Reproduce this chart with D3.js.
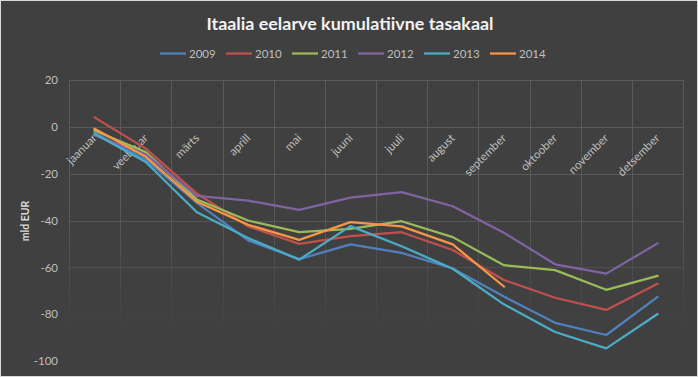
<!DOCTYPE html>
<html><head><meta charset="utf-8">
<script src="https://cdnjs.cloudflare.com/ajax/libs/d3/7.8.5/d3.min.js"></script>
<style>html,body{margin:0;padding:0;background:#404040;overflow:hidden}</style>
</head><body>
<svg id="chart" width="698" height="377"></svg>
<script>
const title = "Itaalia eelarve kumulatiivne tasakaal";
const yLabel = "mld EUR";
const months = ["jaanuar","veebruar","märts","aprill","mai","juuni","juuli","august","september","oktoober","november","detsember"];
const yTicks = [20, 0, -20, -40, -60, -80, -100];
const seriesNames = ["2009","2010","2011","2012","2013","2014"];
const seriesColors = ["#4F81BD","#C0504D","#9BBB59","#8064A2","#4BACC6","#F79646"];
const v2009 = [-2.6, -14, -32.5, -48.5, -56.5, -50.2, -53.8, -60.5, -72.5, -83.7, -88.9, -72.7];
const v2010 = [4, -9.3, -28.5, -42.5, -50, -46.7, -45, -52.6, -65.4, -73, -78.2, -67];
const v2011 = [-1.6, -10.8, -31, -40, -45, -43.6, -40.3, -47.1, -59.1, -61.2, -69.6, -63.7];
const v2012 = [-3.6, -11.8, -29.5, -31.5, -35.5, -30.2, -27.9, -33.9, -45.2, -58.7, -62.7, -49.8];
const v2013 = [-3, -15, -36.5, -47.5, -56.7, -42.4, -51, -60.6, -75.8, -87.6, -94.6, -80];
const v2014 = [-0.8, -12.8, -32, -41.8, -48.3, -40.7, -42.5, -50.2, -68.2];
const allSeries = [v2009, v2010, v2011, v2012, v2013, v2014];

const svg = d3.select("#chart");
const W = 698, H = 377;
const font = "Lato, 'Liberation Sans', sans-serif";
svg.append("rect").attr("x",0.5).attr("y",0.5).attr("width",W-1).attr("height",H-1)
  .attr("fill","#404040").attr("stroke","#d9d9d9").attr("stroke-width",1);

const plot = {l:69, r:683, t:80, b:361};
const x = d3.scaleBand().domain(months).range([plot.l, plot.r]);
const y = d3.scaleLinear().domain([-100, 20]).range([plot.b, plot.t]);

// fading gradient for gridlines
const defs = svg.append("defs");
const grad = defs.append("linearGradient").attr("id","gridFade")
  .attr("gradientUnits","userSpaceOnUse").attr("x1",0).attr("x2",0).attr("y1",plot.t).attr("y2",plot.b);
[[0,1],[0.45,1],[0.68,0.5],[0.84,0.12],[0.92,0]].forEach(([o,a]) =>
  grad.append("stop").attr("offset",o).attr("stop-color","#5a5a5a").attr("stop-opacity",a));

const grid = svg.append("g").attr("stroke","url(#gridFade)").attr("stroke-width",1);
yTicks.forEach(t => {
  grid.append("line").attr("x1",plot.l).attr("x2",plot.r)
    .attr("y1",Math.round(y(t))+0.5).attr("y2",Math.round(y(t))+0.5);
});
const edges = months.map(m => x(m)).concat([plot.r]);
edges.forEach(e => {
  grid.append("line").attr("x1",Math.round(e)+0.5).attr("x2",Math.round(e)+0.5)
    .attr("y1",plot.t).attr("y2",plot.b);
});

// y axis
const yAxis = d3.axisLeft(y).tickValues(yTicks).tickSize(0).tickPadding(11)
  .tickFormat(d => String(d));
const yg = svg.append("g").attr("transform",`translate(${plot.l},0)`).call(yAxis);
yg.select(".domain").remove();
yg.selectAll("text").attr("fill","#bfbfbf").style("font-family",font).style("font-size","11.5px");

// category labels
const xg = svg.append("g");
months.forEach(m => {
  const cx = x(m) + x.bandwidth()/2;
  xg.append("text").attr("transform",`translate(${cx+3},${y(0)+12}) rotate(-45)`)
    .attr("text-anchor","end").attr("fill","#bfbfbf")
    .style("font-family",font).style("font-size","11.5px").text(m);
});

// lines
const line = d3.line().x((d,i) => x(months[i]) + x.bandwidth()/2).y(d => y(d));
allSeries.forEach((s,k) => {
  svg.append("path").datum(s).attr("d",line).attr("fill","none")
    .attr("stroke",seriesColors[k]).attr("stroke-width",2.25)
    .attr("stroke-linejoin","round").attr("stroke-linecap","square");
});

// title
svg.append("text").attr("x",350).attr("y",30).attr("text-anchor","middle")
  .attr("fill","#f2f2f2").style("font-family",font).style("font-weight","bold")
  .style("font-size","17.5px").attr("textLength",287).attr("lengthAdjust","spacingAndGlyphs").text(title);

// legend
const lg = svg.append("g");
seriesNames.forEach((n,k) => {
  const lx = 160 + k*66;
  lg.append("line").attr("x1",lx).attr("x2",lx+26).attr("y1",53.5).attr("y2",53.5)
    .attr("stroke",seriesColors[k]).attr("stroke-width",2.25);
  lg.append("text").attr("x",lx+29).attr("y",57.5).attr("fill","#bfbfbf")
    .style("font-family",font).style("font-size","11.5px").text(n);
});

// y label
svg.append("text").attr("transform",`translate(29,221) rotate(-90)`).attr("text-anchor","middle")
  .attr("fill","#d9d9d9").style("font-family",font).style("font-weight","bold")
  .style("font-size","10.5px").text(yLabel);
</script>
</body></html>
